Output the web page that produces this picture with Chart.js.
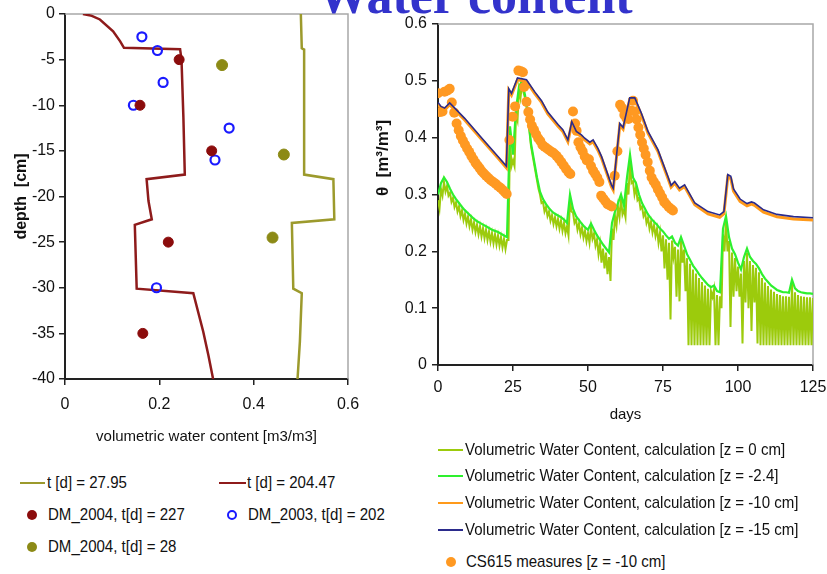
<!DOCTYPE html>
<html>
<head>
<meta charset="utf-8">
<title>Water content</title>
<script src="https://cdn.jsdelivr.net/npm/chart.js@4/dist/chart.umd.min.js"></script>
<style>
  html, body { margin: 0; padding: 0; background: #fff; }
  body { width: 827px; height: 574px; position: relative; overflow: hidden;
         font-family: 'Liberation Sans', Arial, sans-serif; color: #111; }
  canvas { position: absolute; top: 0; }
  #profileChart { left: 0; }
  #seriesChart { left: 360px; }
  .heading { position: absolute; left: 0; width: 950px; top: -34px; line-height: 52px; text-align: center;
             font: bold 52px 'Liberation Serif', 'Times New Roman', serif; color: #3333cc; z-index: 5; white-space: nowrap; }
  .key { position: absolute; font-size: 17px; line-height: 20px; white-space: nowrap; color: #111;
         transform: scaleX(0.885); transform-origin: 0 50%; }
  .swatch { position: absolute; }
</style>
</head>
<body>
<div class="heading">Water content</div>
<canvas id="profileChart" width="390" height="450"></canvas>
<canvas id="seriesChart" width="490" height="430"></canvas>
<div id="keys"></div>
<script>
// ---------- soil profile panel: water content vs depth ----------
const profileEarlyTheta = [0.500, 0.502, 0.507, 0.507, 0.569, 0.571, 0.481, 0.484, 0.502, 0.498, 0.493];
const profileEarlyDepth = [0, -3.75, -3.9, -17.6, -18.1, -22.5, -22.9, -30.1, -30.6, -35.9, -40];
const profileLateTheta = [0.038, 0.057, 0.074, 0.102, 0.117, 0.125, 0.244, 0.247, 0.251, 0.254, 0.173, 0.177, 0.184, 0.148, 0.152, 0.272, 0.293, 0.304, 0.314];
const profileLateDepth = [0, -0.2, -0.6, -1.9, -3.0, -3.7, -3.85, -5, -11.3, -17.6, -18.1, -20.5, -22.5, -23.1, -30.1, -30.6, -34.8, -37.4, -40];
const dm2004LateTheta = [0.242, 0.159, 0.311, 0.219, 0.165];
const dm2004LateDepth = [-5, -10, -15, -25, -35];
const dm2003Theta = [0.163, 0.196, 0.208, 0.145, 0.348, 0.318, 0.194];
const dm2003Depth = [-2.5, -4, -7.5, -10, -12.5, -16, -30];
const dm2004EarlyTheta = [0.333, 0.464, 0.440];
const dm2004EarlyDepth = [-5.6, -15.4, -24.5];

// ---------- time series panel: theta vs days ----------
// daily simulated values at z = -2.4 cm (day 0 .. 125)
const thetaZ24 = [
  0.300,0.320,0.330,0.322,0.310,0.300,0.292,0.285,0.278,0.272,
  0.267,0.262,0.257,0.253,0.250,0.247,0.244,0.241,0.238,0.236,
  0.234,0.231,0.228,0.225,0.420,0.370,0.450,0.490,0.500,0.475,
  0.440,0.390,0.360,0.330,0.305,0.292,0.283,0.276,0.270,0.266,
  0.263,0.260,0.256,0.250,0.300,0.275,0.262,0.255,0.248,0.242,
  0.238,0.249,0.238,0.228,0.220,0.212,0.205,0.198,0.250,0.270,
  0.285,0.300,0.280,0.330,0.370,0.330,0.320,0.300,0.285,0.275,
  0.265,0.258,0.252,0.247,0.240,0.235,0.228,0.222,0.226,0.215,
  0.210,0.225,0.210,0.195,0.185,0.175,0.168,0.160,0.153,0.147,
  0.141,0.137,0.140,0.130,0.128,0.240,0.262,0.225,0.205,0.195,
  0.180,0.168,0.190,0.205,0.190,0.183,0.178,0.170,0.160,0.152,
  0.146,0.140,0.136,0.132,0.130,0.128,0.128,0.127,0.150,0.135,
  0.130,0.128,0.127,0.126,0.126,0.125];
// surface (z = 0) values: daily highs at day d, night lows at day d + 0.5
const thetaZ0High = [
  0.290,0.310,0.322,0.315,0.303,0.294,0.286,0.279,0.272,0.266,
  0.261,0.256,0.251,0.247,0.244,0.241,0.238,0.235,0.232,0.230,
  0.228,0.225,0.222,0.220,0.400,0.360,0.440,0.485,0.495,0.470,
  0.435,0.385,0.355,0.325,0.300,0.287,0.278,0.270,0.264,0.260,
  0.257,0.254,0.250,0.244,0.290,0.268,0.256,0.249,0.242,0.236,
  0.232,0.242,0.231,0.221,0.213,0.205,0.198,0.190,0.240,0.262,
  0.278,0.293,0.273,0.320,0.360,0.323,0.313,0.294,0.279,0.269,
  0.259,0.252,0.246,0.240,0.233,0.228,0.221,0.215,0.219,0.208,
  0.203,0.218,0.203,0.188,0.178,0.168,0.161,0.153,0.146,0.140,
  0.134,0.130,0.133,0.123,0.121,0.230,0.255,0.218,0.198,0.188,
  0.173,0.161,0.183,0.198,0.183,0.176,0.171,0.163,0.153,0.145,
  0.139,0.133,0.129,0.125,0.123,0.121,0.121,0.120,0.143,0.128,
  0.123,0.121,0.120,0.119,0.119,0.118];
const thetaZ0Low = [
  0.275,0.298,0.305,0.298,0.287,0.278,0.270,0.262,0.255,0.249,
  0.244,0.238,0.234,0.230,0.226,0.223,0.220,0.217,0.214,0.212,
  0.210,0.207,0.204,0.220,0.350,0.350,0.430,0.470,0.480,0.455,
  0.410,0.370,0.340,0.310,0.285,0.270,0.262,0.254,0.248,0.244,
  0.240,0.236,0.232,0.228,0.270,0.250,0.238,0.230,0.224,0.218,
  0.215,0.222,0.210,0.195,0.180,0.170,0.160,0.148,0.220,0.245,
  0.260,0.265,0.260,0.300,0.320,0.300,0.290,0.275,0.262,0.250,
  0.240,0.233,0.227,0.215,0.200,0.170,0.150,0.080,0.190,0.120,
  0.112,0.180,0.130,0.035,0.035,0.035,0.035,0.035,0.035,0.035,
  0.035,0.120,0.035,0.035,0.100,0.200,0.200,0.067,0.120,0.130,
  0.120,0.038,0.110,0.100,0.060,0.110,0.038,0.035,0.035,0.035,
  0.035,0.035,0.035,0.035,0.035,0.035,0.035,0.035,0.035,0.035,
  0.035,0.035,0.035,0.035,0.035];
// deeper layers, sampled at break points
const layerDays = [0,1,2.2,3.9,8.9,14.5,20,22.8,23.6,24.5,25.4,26.5,29.5,32.2,34.5,36.6,40,41.6,43.3,44.6,
  46.1,47.8,48.9,50.6,51.7,53.3,54.5,57.8,58.4,60.6,61.7,63.9,65.6,67.8,70,73.3,76.6,77.7,78.9,80.5,
  82.2,85.6,90,93.9,95.3,96.6,97.6,98.5,100.7,103,104.5,105.5,108.5,113,118.5,125];
const thetaZ10 = [0.459,0.452,0.449,0.458,0.431,0.397,0.364,0.347,0.483,0.475,0.487,0.502,0.499,0.478,0.462,0.442,0.420,0.411,0.393,0.425,
  0.408,0.402,0.396,0.389,0.393,0.378,0.364,0.314,0.308,0.422,0.415,0.467,0.467,0.440,0.408,0.376,0.329,0.313,0.320,0.308,
  0.314,0.282,0.266,0.260,0.266,0.331,0.328,0.306,0.288,0.280,0.283,0.281,0.269,0.261,0.257,0.255];
const thetaZ15 = [0.462,0.455,0.452,0.461,0.434,0.400,0.367,0.350,0.486,0.478,0.490,0.505,0.502,0.481,0.465,0.445,0.423,0.414,0.396,0.428,
  0.411,0.405,0.399,0.392,0.396,0.381,0.367,0.317,0.311,0.425,0.418,0.470,0.470,0.443,0.411,0.379,0.332,0.316,0.323,0.311,
  0.317,0.285,0.270,0.264,0.270,0.335,0.332,0.310,0.292,0.284,0.287,0.285,0.273,0.265,0.261,0.259];
// CS615 probe readings at z = -10 cm
const csDays = [0,0.6,1.5,2.2,3.2,3.9,4.6,5.4,6.2,6.9,
  7.6,8.3,9.0,9.7,10.4,11.1,11.8,12.5,13.2,13.9,
  14.6,15.3,16.0,16.8,17.6,18.4,19.2,20.0,20.8,21.6,
  22.3,22.9,23.8,24.9,25.7,26.8,27.6,28.3,28.7,29.5,
  30.1,30.7,31.3,32.0,32.7,33.4,34.1,34.8,35.5,36.3,
  37.1,37.9,38.7,39.5,40.3,41.1,41.9,42.7,43.5,44.1,
  45.0,45.7,46.2,46.8,47.5,48.2,48.9,49.6,50.3,51.0,
  51.7,52.4,53.1,53.8,54.4,55.1,55.8,56.5,57.2,57.9,
  58.9,59.8,60.7,61.4,62.1,62.8,63.5,64.3,65.0,65.6,
  66.2,66.8,67.4,68.0,68.6,69.2,69.9,70.6,71.2,71.9,
  72.6,73.3,74.0,74.7,75.4,76.1,76.9,77.6,78.3];
const csTheta = [0.478,0.445,0.446,0.481,0.483,0.486,0.462,0.444,0.425,0.413,
  0.403,0.395,0.388,0.381,0.375,0.368,0.362,0.356,0.351,0.346,
  0.341,0.337,0.333,0.329,0.325,0.322,0.319,0.315,0.312,0.308,
  0.304,0.301,0.396,0.437,0.455,0.518,0.517,0.515,0.489,0.463,
  0.445,0.432,0.421,0.414,0.406,0.399,0.394,0.387,0.384,0.381,
  0.378,0.375,0.372,0.368,0.363,0.357,0.351,0.345,0.339,0.336,
  0.446,0.425,0.412,0.392,0.383,0.376,0.367,0.360,0.362,0.350,
  0.342,0.336,0.330,0.322,0.298,0.293,0.288,0.283,0.281,0.279,
  0.333,0.376,0.458,0.452,0.440,0.434,0.433,0.448,0.465,0.446,
  0.432,0.418,0.405,0.392,0.381,0.370,0.357,0.342,0.330,0.323,
  0.317,0.309,0.302,0.295,0.287,0.283,0.278,0.275,0.272];

// ---------- helpers ----------
const FONT = "'Liberation Sans', Arial, sans-serif";
Chart.defaults.font.family = FONT;
Chart.defaults.color = '#111';

const pairs = (xs, ys) => xs.map((x, i) => ({ x: x, y: ys[i] }));
const daily = vals => vals.map((v, d) => ({ x: d, y: v }));
function surfaceSeries(high, low) {
  const pts = [];
  high.forEach((v, d) => {
    pts.push({ x: d, y: v });
    if (d < low.length) pts.push({ x: d + 0.5, y: low[d] });
  });
  return pts;
}

// grey frame along the top and right edges of the plot area
const frameLines = {
  id: 'frameLines',
  beforeDatasetsDraw(chart, args, opts) {
    const { ctx, chartArea: a } = chart;
    ctx.save();
    ctx.strokeStyle = opts.color || '#aaa';
    ctx.lineWidth = opts.width || 1.5;
    ctx.beginPath();
    ctx.moveTo(a.left, a.top);
    ctx.lineTo(a.right, a.top);
    ctx.lineTo(a.right, a.bottom);
    ctx.stroke();
    ctx.restore();
  }
};

// rotated caption beside the y axis, anchored at a chosen height
const sideCaption = {
  id: 'sideCaption',
  afterDraw(chart, args, opts) {
    if (!opts.text) return;
    const { ctx, chartArea: a } = chart;
    ctx.save();
    ctx.translate(a.left - opts.dx, opts.y);
    ctx.rotate(-Math.PI / 2);
    ctx.font = opts.font;
    ctx.fillStyle = '#111';
    ctx.textAlign = 'center';
    ctx.textBaseline = 'middle';
    ctx.fillText(opts.text, 0, 0);
    ctx.restore();
  }
};

const axisStyle = (extra) => Object.assign({
  grid: { drawOnChartArea: false, tickLength: 6, color: '#222', lineWidth: 1.5 },
  border: { color: '#222', width: 2 }
}, extra);

// ---------- profile chart ----------
const profileChart = new Chart(document.getElementById('profileChart'), {
  type: 'scatter',
  data: {
    datasets: [
      { label: 't [d] = 27.95', data: pairs(profileEarlyTheta, profileEarlyDepth), showLine: true,
        borderColor: '#9c9a2c', borderWidth: 2.5, pointRadius: 0, order: 4, kind: 'line' },
      { label: 't [d] = 204.47', data: pairs(profileLateTheta, profileLateDepth), showLine: true,
        borderColor: '#8e1b1b', borderWidth: 2.5, pointRadius: 0, order: 3, kind: 'line' },
      { label: 'DM_2004, t[d] = 227', data: pairs(dm2004LateTheta, dm2004LateDepth),
        pointRadius: 5, backgroundColor: '#8b0c0c', borderColor: '#8b0c0c', order: 1, kind: 'dot' },
      { label: 'DM_2003, t[d] = 202', data: pairs(dm2003Theta, dm2003Depth),
        pointRadius: 4.5, borderWidth: 2.2, backgroundColor: 'rgba(255,255,255,0)', borderColor: '#1a1aff', order: 2, kind: 'ring' },
      { label: 'DM_2004, t[d] = 28', data: pairs(dm2004EarlyTheta, dm2004EarlyDepth),
        pointRadius: 5.5, backgroundColor: '#8c8a16', borderColor: '#8c8a16', order: 0, kind: 'dot' }
    ]
  },
  options: {
    responsive: false, animation: false, events: [],
    layout: { padding: { left: 0, top: 14, right: 42, bottom: 0 } },
    plugins: { legend: { display: false }, tooltip: { enabled: false }, frameLines: { color: '#a8a8a8', width: 1.5 } },
    scales: {
      x: axisStyle({ type: 'linear', min: 0, max: 0.6,
        afterFit(s) { s.height = 71; },
        ticks: { stepSize: 0.2, font: { size: 16 }, padding: 10, maxRotation: 0 },
        title: { display: true, text: 'volumetric water content [m3/m3]', font: { size: 15 }, padding: { top: 0, bottom: 4 } } }),
      y: axisStyle({ type: 'linear', min: -40, max: 0,
        afterFit(s) { s.width = 65; },
        ticks: { stepSize: 5, font: { size: 16 }, padding: 4 },
        title: { display: true, text: 'depth  [cm]', font: { size: 16, weight: 'bold' }, padding: { top: 12, bottom: 0 } } })
    }
  },
  plugins: [frameLines]
});

// ---------- time series chart ----------
const seriesChart = new Chart(document.getElementById('seriesChart'), {
  type: 'scatter',
  data: {
    datasets: [
      { label: 'Volumetric Water Content, calculation [z = 0 cm]', data: surfaceSeries(thetaZ0High, thetaZ0Low), showLine: true,
        borderColor: '#9ccb0c', borderWidth: 2, pointRadius: 0, order: 4, kind: 'line' },
      { label: 'Volumetric Water Content, calculation [z = -2.4]', data: daily(thetaZ24), showLine: true,
        borderColor: '#2ef02e', borderWidth: 2.2, pointRadius: 0, order: 3, kind: 'line' },
      { label: 'Volumetric Water Content, calculation [z = -10 cm]', data: pairs(layerDays, thetaZ10), showLine: true,
        borderColor: '#ff9a1a', borderWidth: 3, pointRadius: 0, order: 1, kind: 'line' },
      { label: 'Volumetric Water Content, calculation [z = -15 cm]', data: pairs(layerDays, thetaZ15), showLine: true,
        borderColor: '#2b2b8c', borderWidth: 1.6, pointRadius: 0, order: 0, kind: 'line' },
      { label: 'CS615 measures [z = -10 cm]', data: pairs(csDays, csTheta),
        pointRadius: 5, backgroundColor: '#ff9922', borderColor: '#ff9922', borderWidth: 0, order: 2, kind: 'dot' }
    ]
  },
  options: {
    responsive: false, animation: false, events: [],
    layout: { padding: { left: 0, top: 24, right: 37, bottom: 0 } },
    plugins: {
      legend: { display: false }, tooltip: { enabled: false },
      frameLines: { color: '#a8a8a8', width: 1.5 },
      sideCaption: { text: '\u03b8  [m\u00b3/m\u00b3]', dx: 55, y: 158, font: 'bold 17px ' + FONT }
    },
    scales: {
      x: axisStyle({ type: 'linear', min: 0, max: 125,
        afterFit(s) { s.height = 65; },
        ticks: { stepSize: 25, font: { size: 16 }, padding: 7, maxRotation: 0 },
        title: { display: true, text: 'days', font: { size: 15 }, padding: { top: 0, bottom: 6 } } }),
      y: axisStyle({ type: 'linear', min: 0, max: 0.6,
        afterFit(s) { s.width = 78; },
        ticks: { stepSize: 0.1, font: { size: 16 }, padding: 5 } })
    }
  },
  plugins: [frameLines, sideCaption]
});

// ---------- legends (HTML, built from the dataset definitions) ----------
const keys = document.getElementById('keys');
function addKey(ds, pos) {
  const sw = document.createElement('div');
  sw.className = 'swatch';
  if (ds.kind === 'line') {
    Object.assign(sw.style, { left: pos.sx + 'px', top: (pos.y - 1) + 'px', width: pos.sw + 'px', height: '2px', background: ds.borderColor });
  } else if (ds.kind === 'ring') {
    Object.assign(sw.style, { left: (pos.sx - 5) + 'px', top: (pos.y - 5) + 'px', width: '6px', height: '6px',
      border: '2.2px solid ' + ds.borderColor, borderRadius: '50%' });
  } else {
    Object.assign(sw.style, { left: (pos.sx - 5) + 'px', top: (pos.y - 5) + 'px', width: '10px', height: '10px',
      background: ds.backgroundColor, borderRadius: '50%' });
  }
  keys.appendChild(sw);
  const tx = document.createElement('div');
  tx.className = 'key';
  tx.textContent = ds.label;
  tx.style.left = pos.tx + 'px';
  tx.style.top = (pos.y - 10) + 'px';
  keys.appendChild(tx);
}
const profileKeyPos = [
  { sx: 20, sw: 25, tx: 47, y: 483 },
  { sx: 219, sw: 27, tx: 247, y: 483 },
  { sx: 32, tx: 48, y: 515 },
  { sx: 232, tx: 248, y: 515 },
  { sx: 32, tx: 48, y: 547 }
];
const seriesKeyPos = [
  { sx: 438, sw: 25, tx: 465, y: 450 },
  { sx: 438, sw: 25, tx: 465, y: 476 },
  { sx: 438, sw: 25, tx: 465, y: 503 },
  { sx: 438, sw: 25, tx: 465, y: 530 },
  { sx: 451, tx: 466, y: 562 }
];
profileChart.data.datasets.forEach((ds, i) => addKey(ds, profileKeyPos[i]));
seriesChart.data.datasets.forEach((ds, i) => addKey(ds, seriesKeyPos[i]));
</script>
</body>
</html>
